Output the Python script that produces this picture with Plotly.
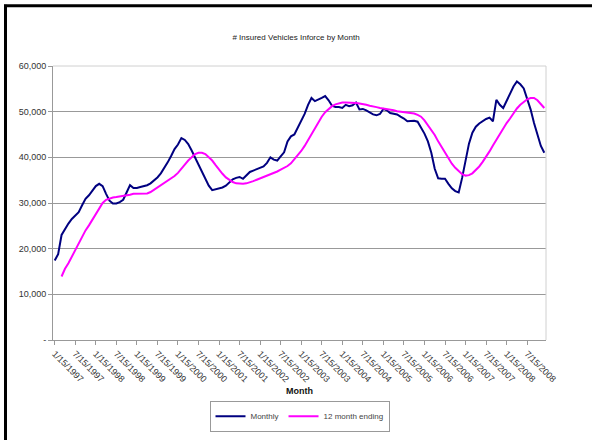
import plotly.graph_objects as go

# Month categories (monthly, Jan 1997 - Dec 2008)
months = [f"{m}/15/{y}" for y in range(1997, 2009) for m in range(1, 13)]
tick_labels = months[::6]

monthly = [
    17400, 18800, 23000, 24300, 25500, 26500, 27300, 28000, 29500, 30900, 31700, 32800,
    33700, 34200, 33700, 32000, 30500, 29900, 29900, 30200, 30700, 32300, 33900, 33300,
    33300, 33500, 33700, 33900, 34300, 34900, 35600, 36500, 37600, 38900, 40300, 41800,
    42800, 44200, 43800, 42900, 41500, 40000, 38200, 36700, 35200, 33800, 32800, 33000,
    33100, 33400, 33800, 34500, 35200, 35500, 35700, 35300, 36000, 36800, 37100, 37400,
    37600, 38000, 38800, 40000, 39500, 39300, 40200, 41100, 43500, 44600, 45000, 46500,
    48000, 49500, 51500, 53000, 52300, 52600, 53000, 53400, 52500, 51300, 51000, 51000,
    50800, 51500, 51200, 51400, 52000, 50500, 50600, 50300, 49800, 49400, 49200, 49500,
    50600, 50300, 49700, 49600, 49400, 48900, 48500, 47900, 48000, 48000, 47800, 46500,
    45200, 43500, 41000, 37500, 35400, 35300, 35300, 34200, 33200, 32600, 32300, 35500,
    39600, 43000, 45400, 46700, 47400, 47900, 48400, 48700, 47900, 52600, 51500, 50800,
    52300, 54000, 55500, 56600, 56000, 55100, 53000, 50500, 47500, 45000, 42500, 41000,
]

twelve_month = [
    None, None, 13900, 15600, 16800, 18300, 19800, 21300, 22700, 24000, 25100, 26300,
    27600, 29000, 30000, 30700, 31000, 31200, 31300, 31400, 31500, 31600, 31800, 32000,
    32000, 32000, 32000, 32100, 32400, 32900, 33300, 33800, 34300, 34900, 35400, 35900,
    36600, 37400, 38400, 39300, 40100, 40700, 41000, 41000, 40700, 40100, 39300, 38300,
    37300, 36400, 35600, 35000, 34600, 34300, 34200, 34200, 34300, 34500, 34800, 35100,
    35400, 35600, 35900, 36200, 36500, 36900, 37300, 37700, 38100, 38700, 39600, 40400,
    41400, 42500, 43800, 45200, 46500, 47800, 48900, 49900, 50600, 51200, 51600, 51800,
    52000, 52000, 52000, 52000, 51900, 51800, 51700, 51500, 51300, 51200, 51000, 50800,
    50700, 50600, 50400, 50300, 50100, 50000, 49900, 49800, 49700, 49600, 49300, 48900,
    48100, 47100, 46100, 44900, 43500, 42200, 40900, 39700, 38600, 37700, 36900, 36300,
    36000, 36100, 36500, 37200, 38000, 39000, 40100, 41300, 42600, 43900, 45100, 46300,
    47500, 48500, 49600, 50700, 51500, 52200, 52700, 53000, 53000, 52500, 51700, 50800,
]

y_ticks = [0, 10000, 20000, 30000, 40000, 50000, 60000]
y_tick_text = ["-", "10,000", "20,000", "30,000", "40,000", "50,000", "60,000"]

FONT = "Liberation Sans, Arial, sans-serif"

fig = go.Figure()
fig.add_trace(go.Scatter(x=months, y=monthly, mode="lines", name="Monthly",
                         line=dict(color="#000080", width=2)))
fig.add_trace(go.Scatter(x=months, y=twelve_month, mode="lines", name="12 month ending",
                         line=dict(color="#FF00FF", width=2)))

L, R, T, B = 53, 546, 66, 343
W, H = 592, 444


def px(xp):
    return (xp - L) / (R - L)


def py(yp):
    return (B - yp) / (B - T)


fig.update_layout(
    width=W, height=H,
    margin=dict(l=L, r=W - R, t=T, b=H - B),
    paper_bgcolor="white", plot_bgcolor="white",
    font=dict(family=FONT, size=9, color="#333333"),
    title=dict(text="# Insured Vehicles Inforce by Month", x=0.5, xanchor="center",
               y=1 - 37 / H, yanchor="middle", font=dict(size=8, color="#222222")),
    showlegend=True,
    legend=dict(orientation="h", x=0.5, xanchor="center", y=py(420), yanchor="middle",
                bordercolor="#999999", borderwidth=1, bgcolor="white",
                font=dict(size=8, color="#444444"), itemwidth=30),
    xaxis=dict(type="category", range=[-0.5, len(months) - 0.5],
               tickmode="array", tickvals=tick_labels, ticktext=tick_labels,
               tickangle=45, ticks="outside", ticklen=4, tickcolor="#999999",
               showline=True, linecolor="#999999", linewidth=1, mirror=False,
               showgrid=False, tickfont=dict(size=9, color="#333333")),
    yaxis=dict(range=[0, 60000], tickmode="array", tickvals=y_ticks, ticktext=y_tick_text,
               ticks="outside", ticklen=4, tickcolor="#999999",
               showline=True, linecolor="#999999", linewidth=1,
               showgrid=True, gridcolor="#999999", gridwidth=1, zeroline=False,
               tickfont=dict(size=9, color="#333333")),
    annotations=[dict(text="<b>Month</b>", x=0.5, y=py(395), xref="paper", yref="paper",
                      showarrow=False, xanchor="center", yanchor="middle",
                      font=dict(size=9, color="#111111"))],
    shapes=[
        # light frame at top and right of plot area
        dict(type="line", xref="paper", yref="paper", x0=0, x1=1, y0=1, y1=1,
             line=dict(color="#d0d0d0", width=1)),
        dict(type="line", xref="paper", yref="paper", x0=1, x1=1, y0=0, y1=1,
             line=dict(color="#d0d0d0", width=1)),
        # outer black border (top and left)
        dict(type="line", xref="paper", yref="paper", x0=px(4), x1=px(592),
             y0=py(5), y1=py(5), line=dict(color="black", width=3)),
        dict(type="line", xref="paper", yref="paper", x0=px(5.5), x1=px(5.5),
             y0=py(4), y1=py(444), line=dict(color="black", width=3)),
    ],
)

fig.write_html(
    "out.html",
    config={"displayModeBar": False},
    post_script="document.body.style.margin='0';document.body.style.overflow='hidden';",
)
